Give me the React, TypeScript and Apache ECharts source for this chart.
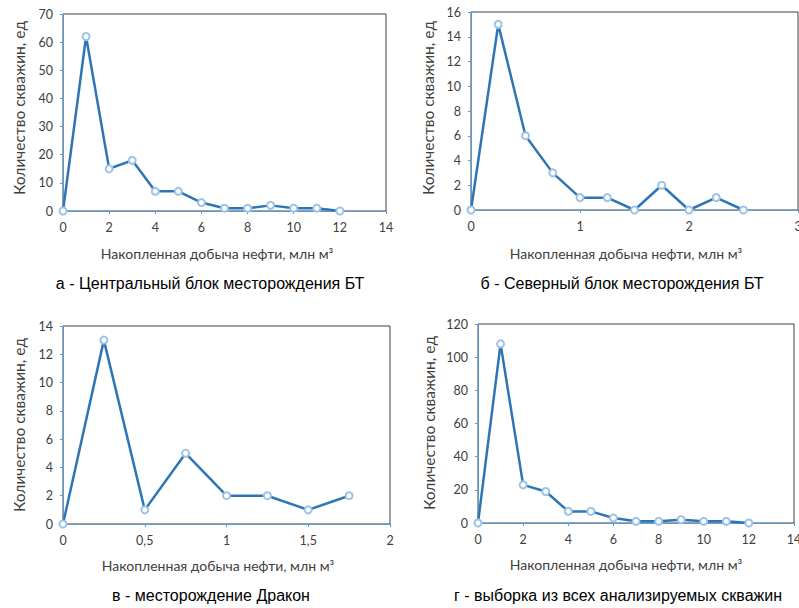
import React, { useEffect, useRef } from "react";
import * as echarts from "echarts";

// Panel а - Центральный блок месторождения БТ
const xA = [0, 1, 2, 3, 4, 5, 6, 7, 8, 9, 10, 11, 12];
const yA = [0, 62, 15, 18, 7, 7, 3, 1, 1, 2, 1, 1, 0];
// Panel б - Северный блок месторождения БТ
const xB = [0, 0.25, 0.5, 0.75, 1, 1.25, 1.5, 1.75, 2, 2.25, 2.5];
const yB = [0, 15, 6, 3, 1, 1, 0, 2, 0, 1, 0];
// Panel в - месторождение Дракон
const xC = [0, 0.25, 0.5, 0.75, 1, 1.25, 1.5, 1.75];
const yC = [0, 13, 1, 5, 2, 2, 1, 2];
// Panel г - выборка из всех анализируемых скважин
const xD = [0, 1, 2, 3, 4, 5, 6, 7, 8, 9, 10, 11, 12];
const yD = [0, 108, 23, 19, 7, 7, 3, 1, 1, 2, 1, 1, 0];

const captions = [
  "а - Центральный блок месторождения БТ",
  "б - Северный блок месторождения БТ",
  "в - месторождение Дракон",
  "г - выборка из всех анализируемых скважин",
];
const xTitle = "Накопленная добыча нефти, млн м³";
const yTitle = "Количество скважин, ед";

const xAxesCfg = [
  { max: 14, interval: 2 },
  { max: 3, interval: 1 },
  { max: 2, interval: 0.5 },
  { max: 14, interval: 2 },
];
const yAxesCfg = [
  { max: 70, interval: 10 },
  { max: 16, interval: 2 },
  { max: 14, interval: 2 },
  { max: 120, interval: 20 },
];

const LINE = "#2E75B6";
const AXIS = "#5B9BD5";
const LABEL = "#404040";
const FONT = "Lato";

export default function App() {
  const ref = useRef<HTMLDivElement>(null);
  useEffect(() => {
    if (!ref.current) return;
    const chart = echarts.init(ref.current, null, { renderer: "svg" });

    const grids = [
      { left: 63, top: 14, width: 323, height: 197 },
      { left: 471, top: 12, width: 327, height: 198 },
      { left: 63, top: 326, width: 327, height: 198 },
      { left: 478, top: 324, width: 316, height: 199 },
    ].map((g) => ({
      ...g,
      show: true,
      borderColor: "#404040",
      borderWidth: 1,
      backgroundColor: "transparent",
      containLabel: false,
      outerBoundsMode: "none",
    }));

    const fmt = (v: number) => String(v).replace(".", ",");

    const xAxis = xAxesCfg.map((c, i) => ({
      type: "value",
      gridIndex: i,
      min: 0,
      max: c.max,
      interval: c.interval,
      axisLine: { show: true, onZero: false, lineStyle: { color: AXIS, width: 1 } },
      axisTick: { show: true, length: 3, lineStyle: { color: AXIS } },
      splitLine: { show: false },
      axisLabel: { color: LABEL, fontFamily: FONT, fontSize: 12.5, margin: 10, formatter: fmt },
    }));
    const yAxis = yAxesCfg.map((c, i) => ({
      type: "value",
      gridIndex: i,
      min: 0,
      max: c.max,
      interval: c.interval,
      axisLine: { show: true, lineStyle: { color: AXIS, width: 1 } },
      axisTick: { show: true, length: 3, lineStyle: { color: AXIS } },
      splitLine: { show: false },
      axisLabel: { color: LABEL, fontFamily: FONT, fontSize: 12.5, margin: 10 },
    }));

    const datasets = [
      [xA, yA],
      [xB, yB],
      [xC, yC],
      [xD, yD],
    ];
    const series = datasets.map(([xs, ys], i) => ({
      type: "line",
      xAxisIndex: i,
      yAxisIndex: i,
      data: xs.map((x, k) => [x, ys[k]]),
      symbol: "emptyCircle",
      symbolSize: 7,
      lineStyle: { color: LINE, width: 2.5 },
      itemStyle: { color: "#9DC3E6", borderColor: "#4A8BCB", borderWidth: 1.5 },
      clip: false,
    }));

    const xTitlePos = [
      [217, 253],
      [626, 253],
      [218, 565],
      [626, 564],
    ];
    const yTitlePos = [
      [19, 108],
      [428, 108],
      [19, 425],
      [429, 423],
    ];
    const capPos = [
      [210, 283],
      [622, 283],
      [211, 595],
      [618, 595],
    ];

    const graphic: any[] = [];
    for (let i = 0; i < 4; i++) {
      graphic.push({
        type: "text",
        x: xTitlePos[i][0],
        y: xTitlePos[i][1],
        style: {
          text: xTitle,
          fill: LABEL,
          font: `14px ${FONT}`,
          textAlign: "center",
          textVerticalAlign: "middle",
        },
      });
      graphic.push({
        type: "text",
        x: yTitlePos[i][0],
        y: yTitlePos[i][1],
        rotation: Math.PI / 2,
        style: {
          text: yTitle,
          fill: LABEL,
          font: `15.5px ${FONT}`,
          textAlign: "center",
          textVerticalAlign: "middle",
        },
      });
      graphic.push({
        type: "text",
        x: capPos[i][0],
        y: capPos[i][1],
        style: {
          text: captions[i],
          fill: "#000000",
          font: `16px 'Liberation Sans'`,
          textAlign: "center",
          textVerticalAlign: "middle",
        },
      });
    }

    chart.setOption({
      animation: false,
      backgroundColor: "#ffffff",
      grid: grids,
      xAxis,
      yAxis,
      series,
      graphic,
    });
    return () => chart.dispose();
  }, []);

  return (
    <div
      ref={ref}
      style={{ position: "fixed", left: 0, top: 0, width: 799, height: 608 }}
    />
  );
}
